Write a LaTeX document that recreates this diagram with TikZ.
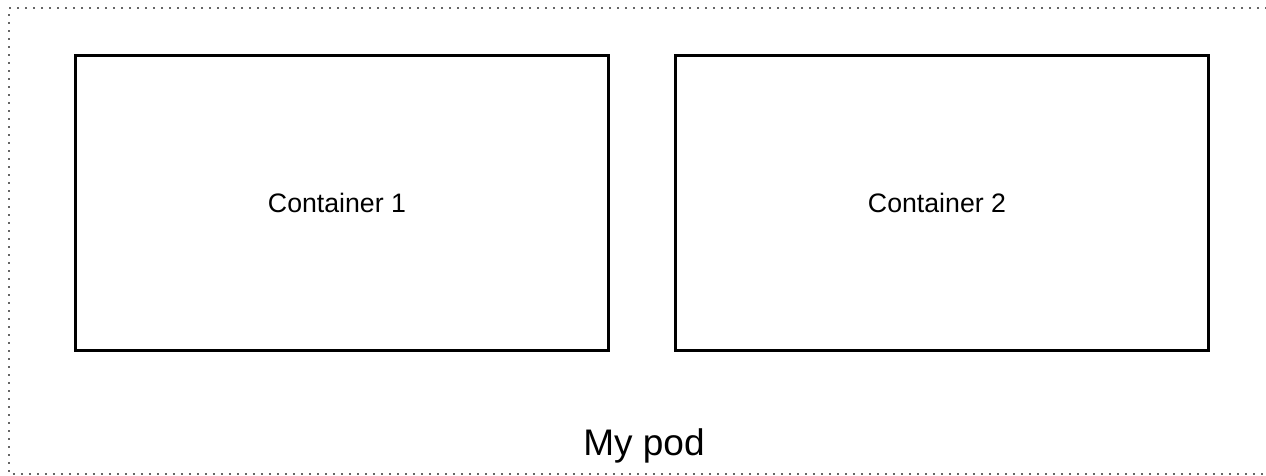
\documentclass[tikz,border=0pt]{standalone}
\usepackage{fontspec}
\setmainfont{Liberation Sans}
\begin{document}
\begin{tikzpicture}[x=1pt,y=-1pt,
  podborder/.style={draw=black!60,line width=1.6pt,dash pattern=on 1.6pt off 6.4pt},
  containerbox/.style={draw=black,line width=3pt,minimum width=533pt,minimum height=295pt,inner sep=0pt},
  containerlabel/.style={font=\fontsize{26.7}{32}\selectfont,inner sep=0pt},
  podlabel/.style={font=\fontsize{37}{44}\selectfont,inner sep=0pt,anchor=base}]
\useasboundingbox (0,0) rectangle (1266,475);
\draw[podborder] (1275,8) -- (9,8) -- (9,474) -- (1275,474);
\node[containerbox] (c1) at (341.5,202.5) {};
\node[containerbox] (c2) at (941.5,202.5) {};
\node[containerlabel] (t1) at ([xshift=-4.5pt]c1.center) {Container 1};
\node[containerlabel] (t2) at ([xshift=-4.5pt]c2.center) {Container 2};
\node[podlabel] (pod) at (644,455) {My pod};
\end{tikzpicture}
\end{document}
